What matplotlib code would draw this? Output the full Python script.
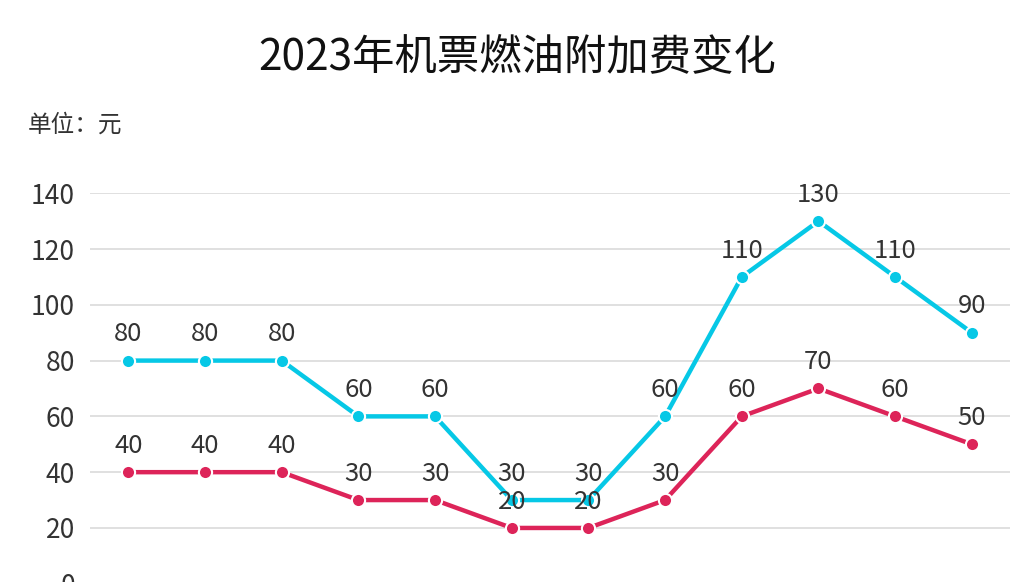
import numpy as np
import matplotlib
matplotlib.use('Agg')
import matplotlib.pyplot as plt

plt.rcParams['font.family'] = ['Noto Sans CJK SC', 'DejaVu Sans']

# Dati
months = ['1月', '2月', '3月', '4月', '5月', '6月', '7月', '8月', '9月', '10月', '11月', '12月']
long_route = [80, 80, 80, 60, 60, 30, 30, 60, 110, 130, 110, 90]
short_route = [40, 40, 40, 30, 30, 20, 20, 30, 60, 70, 60, 50]
y_ticks = [0, 20, 40, 60, 80, 100, 120, 140]

cyan = '#06C8E6'
red = '#DD2459'
text_color = '#333333'

fig = plt.figure(figsize=(10.35, 5.82), dpi=100)
ax = fig.add_axes([0.087, -0.003, 0.889, 0.671])

x = np.arange(len(months))
for values, color in [(short_route, red), (long_route, cyan)]:
    ax.plot(x, values, color=color, linewidth=3.2, marker='o', markersize=9.5,
            markerfacecolor=color, markeredgecolor='white', markeredgewidth=1.5,
            zorder=3, clip_on=False)
    for xi, v in zip(x, values):
        ax.annotate(str(v), xy=(xi, v), xytext=(0, 19), textcoords='offset points',
                    ha='center', va='center', fontsize=18.5, color=text_color,
                    zorder=5, annotation_clip=False)

ax.set_xlim(-0.5, len(months) - 0.5)
ax.set_ylim(0, 140)
ax.set_yticks(y_ticks)
# le etichette dei mesi cadono fuori dall'immagine
ax.set_xticks(x)
ax.set_xticklabels([])
ax.tick_params(axis='y', length=0, pad=11, labelsize=19, labelcolor=text_color)
ax.tick_params(axis='x', length=0)
ax.grid(axis='y', color='#dddddd', linewidth=1.3)
ax.set_axisbelow(True)
for spine in ax.spines.values():
    spine.set_visible(False)

fig.text(0.5, 0.902, '2023年机票燃油附加费变化', ha='center', va='center',
         fontsize=30.5, color='#111111')
fig.text(0.027, 0.785, '单位：元', ha='left', va='center', fontsize=17, color=text_color)

fig.savefig('out.png', dpi=100)
